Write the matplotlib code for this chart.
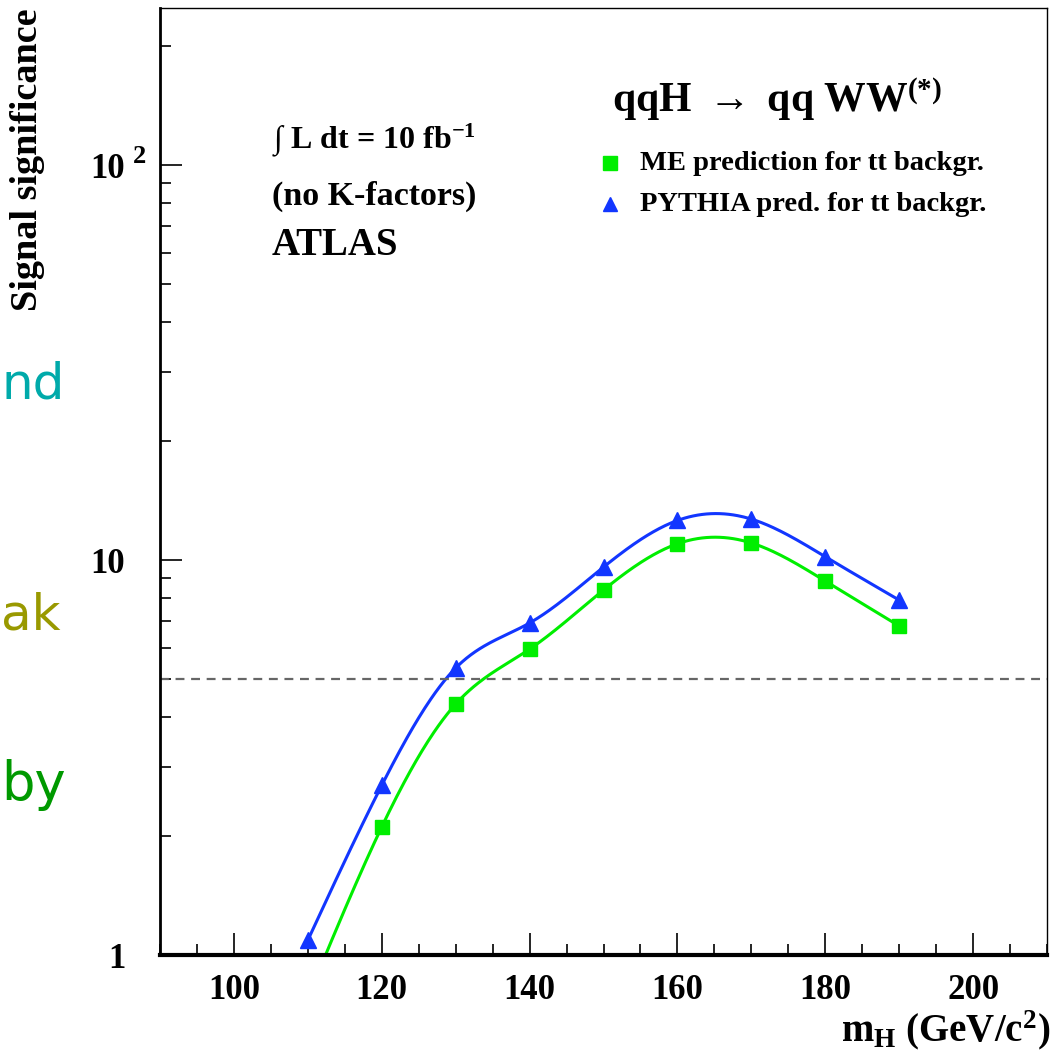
"""
Signal significance vs Higgs mass, qqH -> qq WW(*), ATLAS 10 fb^-1.
Output: out.png
"""

import matplotlib

matplotlib.use("Agg")
import matplotlib.pyplot as plt
import numpy as np
from matplotlib.ticker import FixedLocator, LogLocator, MultipleLocator, NullFormatter

# Data
mass_pythia = [110, 120, 130, 140, 150, 160, 170, 180, 190]
signif_pythia = [1.09, 2.69, 5.33, 6.93, 9.6, 12.6, 12.7, 10.2, 7.92]

mass_me = [110, 120, 130, 140, 150, 160, 170, 180, 190]
signif_me = [0.78, 2.11, 4.32, 5.95, 8.4, 11.0, 11.05, 8.85, 6.81]

discovery_level = 5.0

y_tick_values = [1, 10, 100]
y_tick_labels = ["1", "10", "10"]
x_tick_values = [100, 120, 140, 160, 180, 200]

SERIF = ["Liberation Serif", "DejaVu Serif"]
GREEN = "#00ee00"
BLUE = "#1236ff"


def smooth_curve(x, y, n=400):
    """Natural cubic spline through the points, in log(y), for drawing the line."""
    x = np.asarray(x, dtype=float)
    ly = np.log10(np.asarray(y, dtype=float))
    k = len(x)
    h = np.diff(x)
    A = np.zeros((k, k))
    rhs = np.zeros(k)
    A[0, 0] = A[-1, -1] = 1.0
    for i in range(1, k - 1):
        A[i, i - 1] = h[i - 1]
        A[i, i] = 2 * (h[i - 1] + h[i])
        A[i, i + 1] = h[i]
        rhs[i] = 3 * ((ly[i + 1] - ly[i]) / h[i] - (ly[i] - ly[i - 1]) / h[i - 1])
    c = np.linalg.solve(A, rhs)
    b = (ly[1:] - ly[:-1]) / h - h * (2 * c[:-1] + c[1:]) / 3
    d = (c[1:] - c[:-1]) / (3 * h)
    xs = np.linspace(x[0], x[-1], n)
    idx = np.clip(np.searchsorted(x, xs) - 1, 0, k - 2)
    t = xs - x[idx]
    ys = ly[idx] + b[idx] * t + c[idx] * t ** 2 + d[idx] * t ** 3
    return xs, 10 ** ys


plt.rcParams["font.family"] = SERIF
plt.rcParams["font.weight"] = "bold"
plt.rcParams["mathtext.fontset"] = "custom"
plt.rcParams["mathtext.rm"] = "Liberation Serif:bold"
plt.rcParams["mathtext.it"] = "Liberation Serif:bold"
plt.rcParams["mathtext.bf"] = "Liberation Serif:bold"

fig = plt.figure(figsize=(10.63, 10.54), dpi=100)
ax = fig.add_axes([0.1505, 0.0939, 0.8345, 0.8985])

ax.set_xlim(90, 210)
ax.set_ylim(1, 250)
ax.set_yscale("log")

# Curves
xs, ys = smooth_curve(mass_me, signif_me)
ax.plot(xs, ys, color=GREEN, lw=2.2)
xs, ys = smooth_curve(mass_pythia, signif_pythia)
ax.plot(xs, ys, color=BLUE, lw=2.2)

ax.plot(mass_me, signif_me, ls="none", marker="s", ms=10.5, color=GREEN, mec=GREEN)
ax.plot(mass_pythia, signif_pythia, ls="none", marker="^", ms=11, color=BLUE, mec=BLUE)

ax.axhline(discovery_level, color="#666666", lw=1.6, ls=(0, (4, 3)))

# Axes frame and ticks
for side in ["top", "right"]:
    ax.spines[side].set_linewidth(1.0)
ax.spines["left"].set_linewidth(2.0)
ax.spines["bottom"].set_linewidth(3.0)

ax.xaxis.set_major_locator(FixedLocator(x_tick_values))
ax.xaxis.set_minor_locator(MultipleLocator(5))
ax.set_xticklabels([str(v) for v in x_tick_values])
ax.yaxis.set_major_locator(FixedLocator(y_tick_values))
ax.set_yticklabels(y_tick_labels)
ax.yaxis.set_minor_locator(LogLocator(base=10, subs=np.arange(2, 10)))
ax.yaxis.set_minor_formatter(NullFormatter())

ax.tick_params(which="both", direction="in", top=False, right=False, width=1.2)
ax.tick_params(which="major", length=16)
ax.tick_params(which="minor", length=8)
ax.tick_params(axis="x", which="major", labelsize=25, pad=14)
ax.tick_params(axis="y", which="major", labelsize=25, pad=25)

# exponent of the "10 2" label, ROOT style
ax.annotate("2", xy=(0, 100), xycoords=("axes fraction", "data"),
            xytext=(-10, 6), textcoords="offset points",
            ha="right", va="center", fontsize=19, fontweight="bold")

# Axis titles
fig.text(28 / 1063, 1 - 8 / 1054, "Signal significance", rotation=90,
         ha="center", va="top", fontsize=27.5, fontweight="bold")
fig.text(1050 / 1063, 1 - 1030 / 1054, r"m$_{\mathrm{H}}$ (GeV/c$^{2}$)",
         ha="right", va="center", fontsize=28, fontweight="bold")

# Annotations inside the frame
ax.text(0.126, 0.852, r"$\int$ L dt = 10 fb$^{-1}$", transform=ax.transAxes,
        fontsize=23, fontweight="bold")
ax.text(0.126, 0.792, "(no K-factors)", transform=ax.transAxes,
        fontsize=24.5, fontweight="bold")
ax.text(0.126, 0.739, "ATLAS", transform=ax.transAxes,
        fontsize=28, fontweight="bold")
ax.text(0.509, 0.890, r"qqH $\rightarrow$ qq WW$^{(*)}$", transform=ax.transAxes,
        fontsize=30, fontweight="bold")

# Legend drawn by hand, as in the original
ax.plot([0.507], [0.836], transform=ax.transAxes, marker="s", ms=10,
        color=GREEN, ls="none", clip_on=False)
ax.text(0.541, 0.836, "ME prediction for tt backgr.", transform=ax.transAxes,
        fontsize=20.5, fontweight="bold", va="center")
ax.plot([0.507], [0.793], transform=ax.transAxes, marker="^", ms=10,
        color=BLUE, ls="none", clip_on=False)
ax.text(0.541, 0.793, "PYTHIA pred. for tt backgr.", transform=ax.transAxes,
        fontsize=20.5, fontweight="bold", va="center")

# Fragments of slide text visible at the left edge
fig.text(1 / 1063, 1 - 398 / 1054, "nd", ha="left", va="baseline",
         fontsize=36, fontweight="normal", color="#00aaaa", family="DejaVu Sans")
fig.text(1 / 1063, 1 - 630 / 1054, "ak", ha="left", va="baseline",
         fontsize=36, fontweight="normal", color="#999900", family="DejaVu Sans")
fig.text(1 / 1063, 1 - 800 / 1054, "by", ha="left", va="baseline",
         fontsize=38, fontweight="normal", color="#009900", family="DejaVu Sans")

fig.savefig("out.png", dpi=100)
